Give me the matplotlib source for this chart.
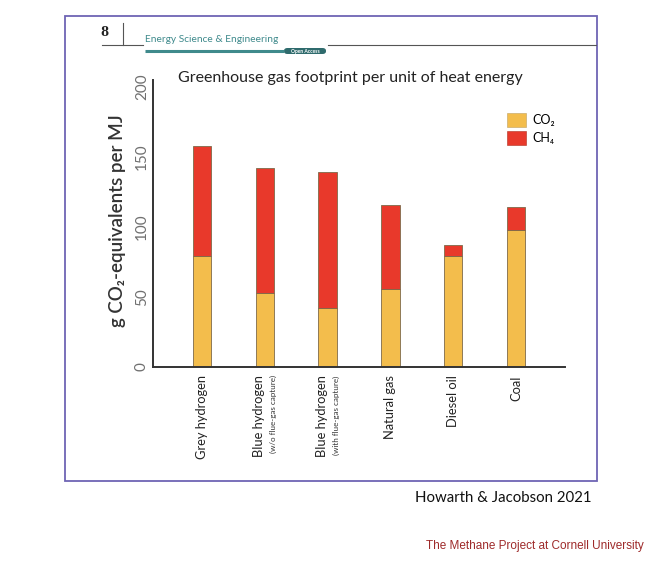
import matplotlib.pyplot as plt
from matplotlib.patches import Rectangle, FancyBboxPatch, Patch
from matplotlib.lines import Line2D
import numpy as np

plt.rcParams['font.family'] = ['Lato', 'DejaVu Sans']

# data (g CO2-eq per MJ)
fuels = ['Grey hydrogen', 'Blue hydrogen', 'Blue hydrogen', 'Natural gas', 'Diesel oil', 'Coal']
fuel_notes = ['', '(w/o flue-gas capture)', '(with flue-gas capture)', '', '', '']
co2 = [79, 53, 42, 56, 79, 98]
ch4 = [79, 89, 97.5, 60, 8, 16.5]
yticks = [0, 50, 100, 150, 200]

co2_color = '#F3BD4C'
ch4_color = '#E8392B'
edge = '#7d6a4a'

W, H = 660, 564
fig = plt.figure(figsize=(W / 100, H / 100), dpi=100)

def fx(px):
    return px / W

def fy(py):
    return 1 - py / H

# slide frame
fig.patches.append(Rectangle((fx(65), fy(481)), fx(597) - fx(65), fy(16) - fy(481),
                             transform=fig.transFigure, fill=False,
                             edgecolor='#6e64b4', linewidth=1.3))

# journal header
fig.text(fx(104), fy(33), '8', family='DejaVu Serif', fontweight='bold', fontsize=8.5,
         ha='center', va='center', color='#222222')
fig.add_artist(Line2D([fx(102), fx(143)], [fy(45), fy(45)], color='#555555', lw=0.8))
fig.add_artist(Line2D([fx(123), fx(123)], [fy(23), fy(45)], color='#555555', lw=0.8))
fig.add_artist(Line2D([fx(328), fx(596)], [fy(45), fy(45)], color='#555555', lw=0.8))
fig.text(fx(145), fy(40), 'Energy Science & Engineering', fontsize=7.3, color='#3f8a8c',
         ha='left', va='center')
fig.add_artist(Line2D([fx(145), fx(284)], [fy(51), fy(51)], color='#3f8a8c', lw=2.2,
                      solid_capstyle='butt'))
fig.patches.append(FancyBboxPatch((fx(284), fy(54)), fx(326) - fx(284), fy(48) - fy(54),
                                  boxstyle='round,pad=0,rounding_size=0.005',
                                  transform=fig.transFigure, facecolor='#2f6b6d',
                                  edgecolor='none'))
fig.text(fx(305), fy(51), 'Open Access', fontsize=3.6, color='white',
         ha='center', va='center', fontweight='bold')

# chart
ax = fig.add_axes([fx(153), fy(367), fx(565) - fx(153), fy(80) - fy(367)])
x = np.arange(len(fuels))
ax.bar(x, co2, 0.29, color=co2_color, edgecolor=edge, linewidth=0.6, label='CO₂')
ax.bar(x, ch4, 0.29, bottom=co2, color=ch4_color, edgecolor=edge, linewidth=0.6, label='CH₄')

ax.set_xlim(-0.78, 5.78)
ax.set_ylim(0, 205)
ax.set_yticks(yticks)
ax.set_yticklabels([str(t) for t in yticks], rotation=90, va='center', color='#707070',
                   fontsize=11)
ax.set_xticks(x)
ax.set_xticklabels([])
ax.tick_params(axis='y', length=0, pad=3)
ax.tick_params(axis='x', length=0)
for s in ['top', 'right']:
    ax.spines[s].set_visible(False)
for s in ['left', 'bottom']:
    ax.spines[s].set_color('#333333')
    ax.spines[s].set_linewidth(1.4)

for i, (name, note) in enumerate(zip(fuels, fuel_notes)):
    dx = -4 if note else 0
    ax.annotate(name, xy=(i, 0), xycoords=('data', 'axes fraction'),
                xytext=(dx, -6), textcoords='offset points', rotation=90,
                ha='center', va='top', fontsize=9.3, color='#222222')
    if note:
        ax.annotate(note, xy=(i, 0), xycoords=('data', 'axes fraction'),
                    xytext=(dx + 10, -6), textcoords='offset points', rotation=90,
                    ha='center', va='top', fontsize=5.8, color='#333333')

fig.text(fx(178), fy(78), 'Greenhouse gas footprint per unit of heat energy', fontsize=11.5,
         color='#222222', ha='left', va='center')
fig.text(fx(118), fy(221), 'g CO₂-equivalents per MJ', rotation=90, fontsize=13.5,
         fontweight='semibold', color='#333333', ha='center', va='center')

handles = [Patch(facecolor=co2_color, edgecolor='#bfa060', linewidth=0.4),
           Patch(facecolor=ch4_color, edgecolor='#b03020', linewidth=0.4)]
fig.legend(handles, ['CO₂', 'CH₄'], loc='upper left',
           bbox_to_anchor=(fx(507), fy(113)), bbox_transform=fig.transFigure,
           frameon=False, borderpad=0, borderaxespad=0, fontsize=9,
           handlelength=1.5, handleheight=1.4, handletextpad=0.5, labelspacing=0.25)

# slide captions
fig.text(fx(415), fy(498), 'Howarth & Jacobson 2021', fontsize=10.8, color='#111111',
         ha='left', va='center')
fig.text(fx(426), fy(546), 'The Methane Project at Cornell University', fontsize=8.5,
         family='Liberation Sans', color='#9e2a2a', ha='left', va='center')

plt.savefig('out.png', dpi=100)
